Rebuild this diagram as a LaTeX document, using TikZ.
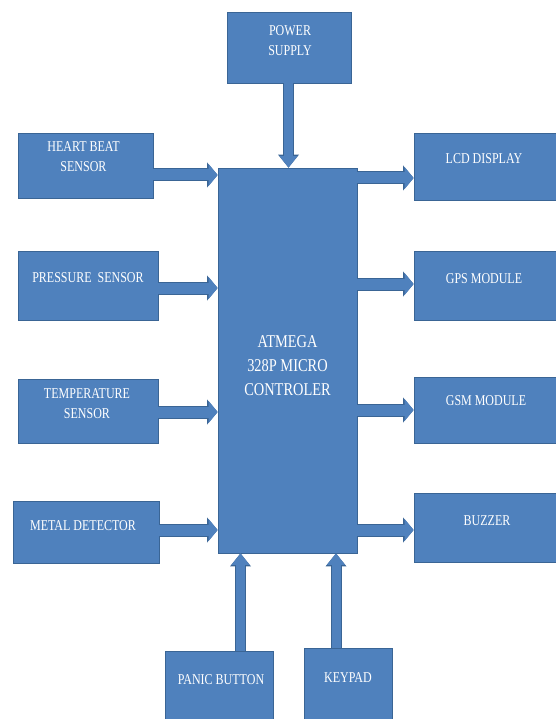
\documentclass[tikz,border=0pt]{standalone}
\usepackage{fontspec}
\setmainfont[FakeStretch=0.8]{Liberation Serif}
\usetikzlibrary{arrows.meta}

\definecolor{boxfill}{HTML}{4F81BD}
\definecolor{boxedge}{HTML}{3A6595}

\tikzset{
  blk/.style={draw=boxedge, fill=boxfill, line width=0.8pt, inner sep=0pt},
  lbl/.style={text=white, align=center, inner sep=0pt, font=\fontsize{15}{20}\selectfont},
  harrow/.style={draw=boxfill, line width=11pt,
    -{Triangle[length=9pt,width=22pt,line width=0pt]},
    preaction={draw=boxedge, line width=13pt,
      -{Triangle[length=10.5pt,width=25pt,line width=0pt]}}},
  varrow/.style={draw=boxfill, line width=9pt,
    -{Triangle[length=11.5pt,width=18pt,line width=0pt]},
    preaction={draw=boxedge, line width=11pt,
      -{Triangle[length=13pt,width=21pt,line width=0pt]}}}
}

\begin{document}
\begin{tikzpicture}[x=1pt, y=-1pt]
    \useasboundingbox (0,0) rectangle (555,719);

    % boxes
    \node[blk, minimum width=124pt, minimum height=71pt]  (ps)  at (289,47.5)   {};
    \node[blk, minimum width=139pt, minimum height=385pt] (mcu) at (287.5,360.5) {};
    \node[blk, minimum width=135pt, minimum height=65pt]  (hb)  at (85.5,165.5) {};
    \node[blk, minimum width=140pt, minimum height=69pt]  (pr)  at (88,285.5)   {};
    \node[blk, minimum width=140pt, minimum height=64pt]  (tp)  at (88,411)     {};
    \node[blk, minimum width=146pt, minimum height=62pt]  (md)  at (86,532)     {};
    \node[blk, minimum width=156pt, minimum height=67pt]  (lcd) at (492,166.5)  {};
    \node[blk, minimum width=156pt, minimum height=69pt]  (gps) at (492,285.5)  {};
    \node[blk, minimum width=156pt, minimum height=66pt]  (gsm) at (492,410)    {};
    \node[blk, minimum width=156pt, minimum height=69pt]  (bz)  at (492,527.5)  {};
    \node[blk, minimum width=108pt, minimum height=90pt]  (pb)  at (219,696)    {};
    \node[blk, minimum width=88pt,  minimum height=92pt]  (kp)  at (348,694)    {};

    % texts
    \node[lbl] (ps-t)  at (290,41)  {POWER\\SUPPLY};
    \node[lbl, font=\fontsize{18}{24}\selectfont] (mcu-t) at (287.5,366)
        {ATMEGA\\328P MICRO\\CONTROLER};
    \node[lbl] (hb-t)  at (83.5,157) {HEART BEAT\\SENSOR};
    \node[lbl] (pr-t)  at (88,278)   {PRESSURE\ \ SENSOR};
    \node[lbl] (tp-t)  at (87,404)   {TEMPERATURE\\SENSOR};
    \node[lbl] (md-t)  at (83,526)   {METAL DETECTOR};
    \node[lbl] (lcd-t) at (484,159)  {LCD DISPLAY};
    \node[lbl] (gps-t) at (484,279)  {GPS MODULE};
    \node[lbl] (gsm-t) at (486,401)  {GSM MODULE};
    \node[lbl] (bz-t)  at (487,521)  {BUZZER};
    \node[lbl] (pb-t)  at (221,680)  {PANIC BUTTON};
    \node[lbl] (kp-t)  at (348,678)  {KEYPAD};

    % arrows
    \draw[varrow] (288.5,0 |- ps.south) -- (288.5,0 |- mcu.north);
    \foreach \src/\yy in {hb/175,pr/288,tp/412,md/530}
        \draw[harrow] (\src.east |- 0,\yy) -- (mcu.west |- 0,\yy);
    \foreach \dst/\yy in {lcd/178,gps/284,gsm/410,bz/530}
        \draw[harrow] (mcu.east |- 0,\yy) -- (\dst.west |- 0,\yy);
    \foreach \src/\xx in {pb/240.5,kp/336}
        \draw[varrow] (\xx,0 |- \src.north) -- (\xx,0 |- mcu.south);
\end{tikzpicture}
\end{document}
